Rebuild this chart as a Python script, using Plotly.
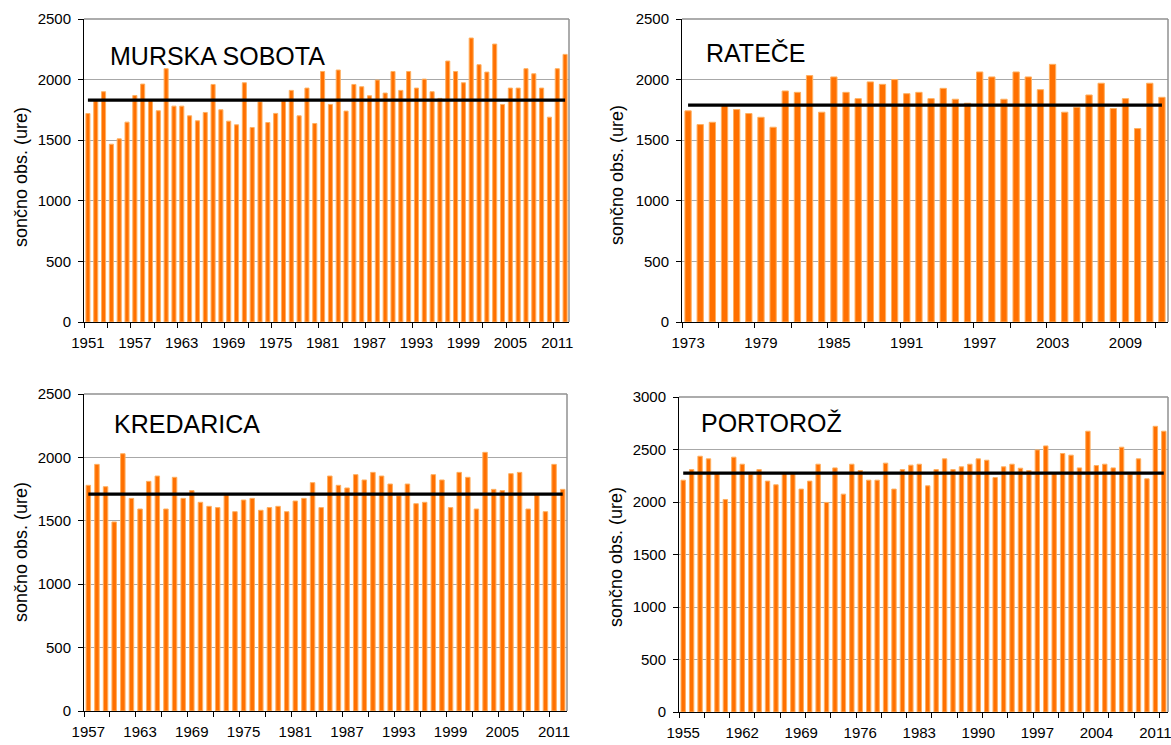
import plotly.graph_objects as go

# ---------------- data ----------------
ms_years = list(range(1951, 2013))
ms_values = [1720, 1830, 1900, 1467, 1511, 1649, 1869, 1963, 1830, 1743,
             2090, 1781, 1781, 1701, 1660, 1729, 1960, 1751, 1657, 1627,
             1974, 1605, 1817, 1646, 1721, 1830, 1911, 1701, 1930, 1638,
             2067, 1795, 2079, 1740, 1960, 1941, 1867, 1996, 1889, 2067,
             1911, 2067, 1930, 2004, 1900, 1845, 2153, 2067, 1974, 2343,
             2123, 2062, 2293, 1795, 1930, 1930, 2090, 2048, 1930, 1690,
             2090, 2208]
ms_avg = 1830

ra_years = list(range(1973, 2013))
ra_values = [1742, 1629, 1648, 1790, 1753, 1720, 1689, 1607, 1906, 1895,
             2033, 1731, 2022, 1895, 1843, 1981, 1961, 2000, 1884, 1895,
             1843, 1928, 1838, 1805, 2063, 2022, 1838, 2063, 2022, 1917,
             2126, 1731, 1772, 1873, 1970, 1761, 1843, 1596, 1970, 1854]
ra_avg = 1790

kr_years = list(range(1957, 2013))
kr_values = [1780, 1945, 1769, 1491, 2029, 1677, 1593, 1811, 1853, 1593,
             1843, 1677, 1738, 1646, 1614, 1604, 1705, 1572, 1664, 1677,
             1583, 1604, 1614, 1572, 1656, 1677, 1801, 1604, 1853, 1780,
             1759, 1864, 1822, 1882, 1853, 1790, 1698, 1790, 1635, 1646,
             1864, 1822, 1604, 1882, 1843, 1593, 2040, 1748, 1738, 1872,
             1882, 1593, 1703, 1572, 1945, 1748]
kr_avg = 1710

po_years = list(range(1955, 2013))
po_values = [2208, 2309, 2436, 2411, 2275, 2024, 2427, 2360, 2265, 2309,
             2199, 2164, 2275, 2270, 2123, 2199, 2360, 1996, 2325, 2075,
             2360, 2300, 2208, 2208, 2370, 2123, 2309, 2351, 2360, 2154,
             2309, 2411, 2309, 2335, 2360, 2411, 2398, 2233, 2335, 2360,
             2322, 2300, 2496, 2534, 2275, 2462, 2446, 2325, 2674, 2347,
             2360, 2325, 2522, 2265, 2411, 2221, 2721, 2674]
po_avg = 2275

station_names = ["MURSKA SOBOTA", "RATEČE", "KREDARICA", "PORTOROŽ"]
y_title = "sončno obs. (ure)"

# ---------------- layout spec (pixel positions) ----------------
W, H = 1171, 745
panels = [
    dict(years=ms_years, values=ms_values, avg=ms_avg, ymax=2500, lstep=6,
         box=(84, 569, 19, 322), title_xy=(108, 56), ytitle_xy=(21, 177)),
    dict(years=ra_years, values=ra_values, avg=ra_avg, ymax=2500, lstep=6,
         box=(682, 1168, 19, 322), title_xy=(704, 53), ytitle_xy=(617, 175)),
    dict(years=kr_years, values=kr_values, avg=kr_avg, ymax=2500, lstep=6,
         box=(84, 567, 394, 711), title_xy=(112, 424), ytitle_xy=(21, 552)),
    dict(years=po_years, values=po_values, avg=po_avg, ymax=3000, lstep=7,
         box=(679, 1168, 397, 712), title_xy=(699, 423), ytitle_xy=(616, 557)),
]
TICK_STEP = 3

FONT = "Liberation Sans, Arial, sans-serif"
BAR_COLOR = "#FF7000"
BAR_EDGE = "#FFB060"
GRID = "#A8A8A8"

fig = go.Figure()
annotations = []
shapes = []
layout_axes = {}

for i, (p, name) in enumerate(zip(panels, station_names)):
    sfx = "" if i == 0 else str(i + 1)
    xa, ya = "x" + sfx, "y" + sfx
    yrs = p["years"]
    fig.add_trace(go.Bar(
        x=yrs, y=p["values"], xaxis=xa, yaxis=ya, width=0.52,
        marker=dict(color=BAR_COLOR, line=dict(color=BAR_EDGE, width=1)),
        showlegend=False, hoverinfo="x+y"))
    fig.add_trace(go.Scatter(
        x=[yrs[0], yrs[-1]], y=[p["avg"], p["avg"]], xaxis=xa, yaxis=ya,
        mode="lines", line=dict(color="black", width=3.2), showlegend=False))

    x0, x1, y0, y1 = p["box"]
    xdom = [x0 / W, x1 / W]
    ydom = [1 - y1 / H, 1 - y0 / H]
    labels = yrs[::p["lstep"]]
    bounds = [yrs[0] - 0.5 + k for k in range(0, len(yrs) + 1, TICK_STEP)]
    layout_axes["xaxis" + sfx] = dict(
        domain=xdom, anchor=ya, range=[yrs[0] - 0.5, yrs[-1] + 0.5],
        tickmode="array", tickvals=labels, ticktext=[str(v) for v in labels],
        ticks="", showgrid=False, zeroline=False, automargin=False,
        ticklabeloverflow="allow",
        showline=True, linecolor="black", linewidth=1,
        ticklabelstandoff=7,
        minor=dict(tickmode="array", tickvals=bounds, ticks="outside",
                   ticklen=5, tickcolor="black", tickwidth=1, showgrid=False),
        tickfont=dict(family=FONT, size=15, color="black"),
        fixedrange=True)
    layout_axes["yaxis" + sfx] = dict(
        domain=ydom, anchor=xa, range=[0, p["ymax"]], dtick=500,
        ticks="outside", ticklen=5, tickcolor="black", automargin=False,
        ticklabelstandoff=4, ticklabeloverflow="allow",
        showgrid=True, gridcolor=GRID, gridwidth=1, zeroline=False,
        showline=True, linecolor="black", linewidth=1,
        tickfont=dict(family=FONT, size=15, color="black"),
        fixedrange=True)

    # grey top and right frame of the plot area
    shapes.append(dict(type="line", xref=xa + " domain", yref=ya + " domain",
                       x0=0, x1=1, y0=1, y1=1, line=dict(color="#909090", width=1.5)))
    shapes.append(dict(type="line", xref=xa + " domain", yref=ya + " domain",
                       x0=1, x1=1, y0=0, y1=1, line=dict(color="#909090", width=1.5)))

    tx, ty = p["title_xy"]
    annotations.append(dict(text=name, xref="paper", yref="paper",
                            x=tx / W, y=1 - ty / H, xanchor="left", yanchor="middle",
                            showarrow=False, font=dict(family=FONT, size=25, color="black")))
    ux, uy = p["ytitle_xy"]
    annotations.append(dict(text=y_title, xref="paper", yref="paper",
                            x=ux / W, y=1 - uy / H,
                            xanchor="center", yanchor="middle", textangle=-90,
                            showarrow=False, font=dict(family=FONT, size=18, color="black")))

fig.update_layout(
    width=W, height=H, margin=dict(l=0, r=0, t=0, b=0, pad=0, autoexpand=False),
    paper_bgcolor="white", plot_bgcolor="white",
    barmode="overlay", showlegend=False,
    annotations=annotations, shapes=shapes,
    **layout_axes)

fig.write_html("out.html", config={"displayModeBar": False},
               post_script="document.body.style.margin='0';document.body.style.padding='0';")
